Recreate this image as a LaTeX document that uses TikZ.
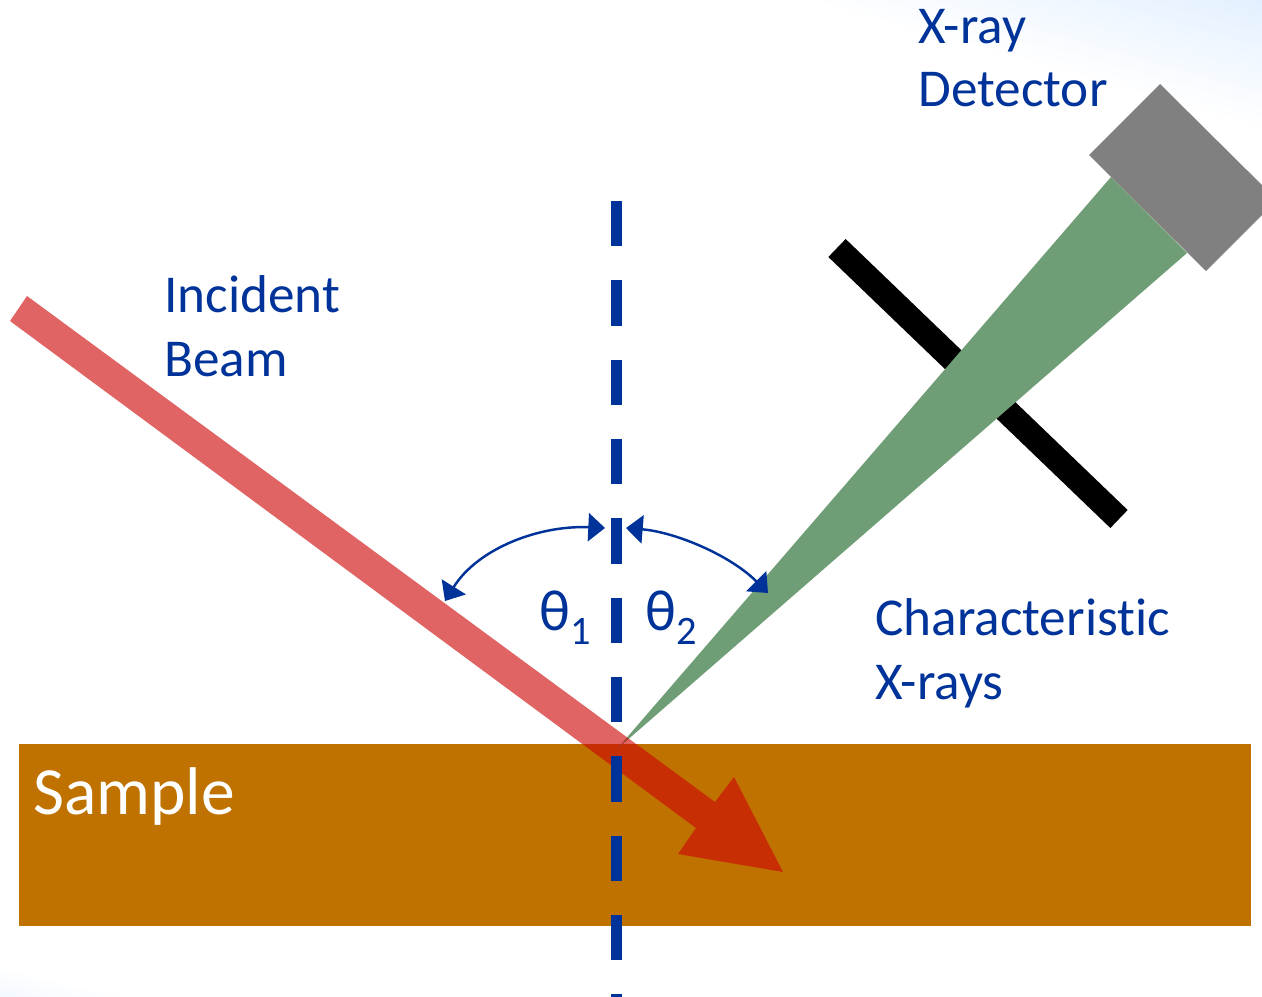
\documentclass[tikz,border=0pt]{standalone}
\usepackage{fontspec}
\setmainfont[Ligatures=NoCommon]{Carlito}
\usepackage{xcolor}
\usetikzlibrary{arrows.meta}

\definecolor{labelblue}{HTML}{003399}
\definecolor{samplebrown}{HTML}{BF7200}
\definecolor{beamred}{RGB}{205,5,5}
\definecolor{raygreen}{HTML}{6F9D75}

\newcommand{\subnum}[1]{\raisebox{-8.5pt}{\fontsize{23pt}{23pt}\selectfont #1}}

\begin{document}
\begin{tikzpicture}[
    x=0.02cm, y=-0.02cm,
    lbl/.style={anchor=base west, inner sep=0pt, align=left, text=labelblue, font=\fontsize{30.3pt}{36.4pt}\selectfont},
    thetalbl/.style={lbl, font=\fontsize{33pt}{36.4pt}\selectfont},
    anglearr/.style={{Triangle[length=9.5pt, width=16pt]}-{Triangle[length=9.5pt, width=16pt]}, draw=labelblue, line width=1.4pt},
    normalline/.style={draw=labelblue, line width=6.26pt, dash pattern=on 25.8pt off 19.35pt},
]

\clip (0,0) rectangle (1262,997);

% page background
\shade[transform canvas={rotate around={-15.7:(800,0)}}, top color={rgb,255:red,227;green,240;blue,255}, bottom color=white] (800,-125) rectangle (1320,0);
\shade[transform canvas={rotate around={-13.8:(0,965)}}, top color=white, bottom color={rgb,255:red,243;green,248;blue,255}] (-20,965) rectangle (150,996);

\fill[samplebrown] (19,744) rectangle (1251,926);

% slit, the rays pass over it
\coordinate (slitA) at (837,248);
\coordinate (slitB) at (1119,519);
\draw[black, line width=14.2pt] (slitA) -- (slitB);

\fill[raygreen] (617,749) -- (1111,177) -- (1187,253) -- cycle;
\fill[gray] (1160,84) -- (1089,155) -- (1206,271) -- (1277,200) -- cycle;

\fill[beamred, opacity=0.62] (27,296) -- (715,802) -- (734,777) -- (783,872) -- (678,854) -- (696,828) -- (10,321) -- cycle;

\coordinate (normalTop) at (616.5,201);
\coordinate (normalEnd) at (616.5,1010);
\draw[normalline] (normalTop) -- (normalEnd);

\coordinate (arcLeftA) at (605,528);
\coordinate (arcLeftB) at (445,601);
\coordinate (arcRightA) at (626,528);
\coordinate (arcRightB) at (768,593);
\draw[anglearr] (arcLeftA) .. controls (540,525) and (478,548) .. (arcLeftB);
\draw[anglearr] (arcRightA) .. controls (675,532) and (730,555) .. (arcRightB);

\node[lbl] (incident) at (164,376) {Incident\\Beam};
\node[lbl] (detector) at (918,107) {X-ray\\Detector};
\node[lbl] (charrays) at (875,699) {Characteristic\\X-rays};
\node[thetalbl] (theta1) at (539,630) {θ\subnum{1}};
\node[thetalbl] (theta2) at (645,630) {θ\subnum{2}};
\node[lbl, text=white, font=\fontsize{38.4pt}{46pt}\selectfont] (sample) at (33,814) {Sample};

\end{tikzpicture}
\end{document}
